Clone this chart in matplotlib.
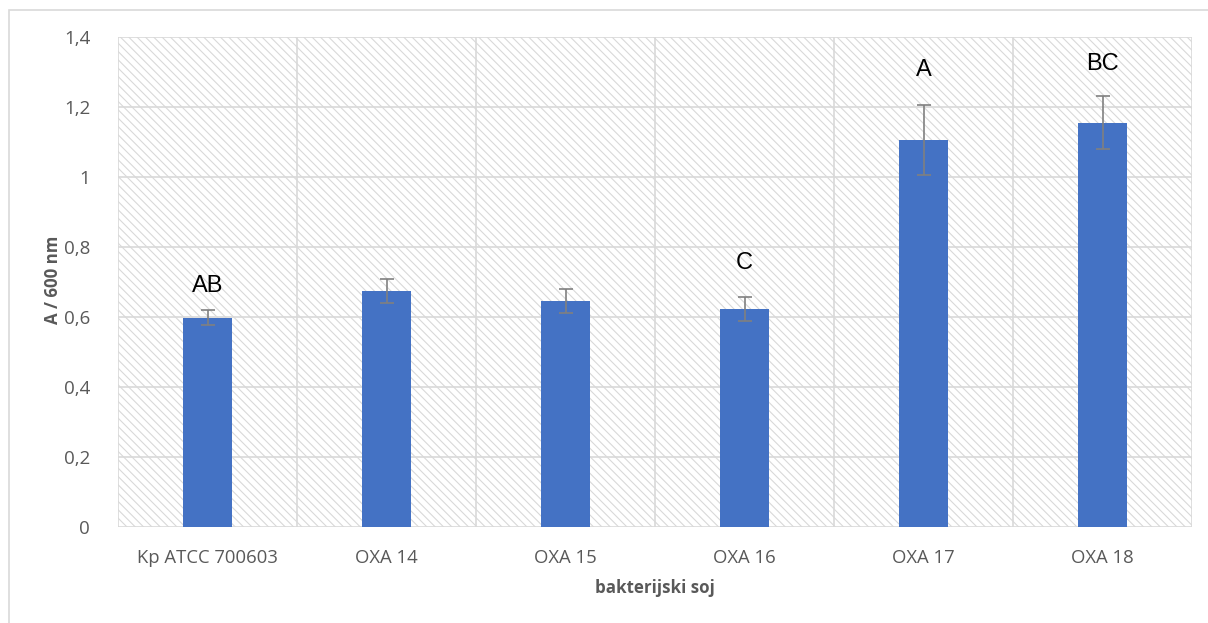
import matplotlib
matplotlib.use("Agg")
import matplotlib.pyplot as plt
from matplotlib.patches import Rectangle
import numpy as np

categories = ["Kp ATCC 700603", "OXA 14", "OXA 15", "OXA 16", "OXA 17", "OXA 18"]
values = [0.598, 0.674, 0.646, 0.623, 1.106, 1.155]
errors = [0.022, 0.035, 0.034, 0.034, 0.101, 0.076]
letters = ["AB", "", "", "C", "A", "BC"]
letter_y = [0.689, None, None, 0.754, 1.306, 1.322]
yticks = [0, 0.2, 0.4, 0.6, 0.8, 1.0, 1.2, 1.4]
ytick_labels = ["0", "0,2", "0,4", "0,6", "0,8", "1", "1,2", "1,4"]

plt.rcParams['hatch.linewidth'] = 0.8
plt.rcParams['hatch.color'] = '#d9d9d9'

fig = plt.figure(figsize=(12.08, 6.23), dpi=100)
W, H = 1208, 623
ax = fig.add_axes([118 / W, 1 - 527 / H, (1192 - 118) / W, (527 - 37) / H])

# outer chart border
fig.patches.append(Rectangle((9 / W, -0.1), 1.2, 1 - 10 / H + 0.1, transform=fig.transFigure,
                             fill=False, edgecolor='#d9d9d9', linewidth=1.2, zorder=0))

x = np.arange(len(categories))
ax.set_xlim(-0.5, len(categories) - 0.5)
ax.set_ylim(0, 1.4)

# hatched plot-area background
ax.add_patch(Rectangle((0, 0), 1, 1, transform=ax.transAxes, facecolor='white',
                       edgecolor='#d9d9d9', hatch='\\\\\\\\', linewidth=0, zorder=0))

for yv in yticks:
    ax.axhline(yv, color='#d9d9d9', linewidth=1.2, zorder=1)
for xv in np.arange(-0.5, len(categories) + 0.5, 1):
    ax.axvline(xv, color='#d9d9d9', linewidth=1.2, zorder=1)

ax.bar(x, values, width=0.27, color='#4472C4', zorder=2)
ax.errorbar(x, values, yerr=errors, fmt='none', ecolor='#808080', elinewidth=1.2,
            capsize=5, capthick=1.2, zorder=3)

for xi, lab, ly in zip(x, letters, letter_y):
    if lab:
        ax.text(xi, ly, lab, ha='center', va='center', fontsize=17,
                family='Liberation Sans', color='black', zorder=4)

for s in ax.spines.values():
    s.set_visible(False)

ax.set_yticks(yticks)
ax.set_yticklabels(ytick_labels, fontsize=13.5, family='Open Sans', color='#595959')
ax.set_xticks(x)
ax.set_xticklabels(categories, fontsize=13.3, family='Open Sans', color='#595959')
ax.tick_params(axis='both', length=0)
ax.tick_params(axis='y', pad=20)
ax.tick_params(axis='x', pad=16)

fig.text(53 / W, 1 - 280 / H, "A / 600 nm", rotation=90, ha='center', va='center',
         fontsize=12.2, fontweight='bold', family='Open Sans', color='#595959')
fig.text(655 / W, 1 - 588 / H, "bakterijski soj", ha='center', va='center',
         fontsize=12.2, fontweight='bold', family='Open Sans', color='#595959')

fig.savefig("out.png", dpi=100, facecolor='white')
